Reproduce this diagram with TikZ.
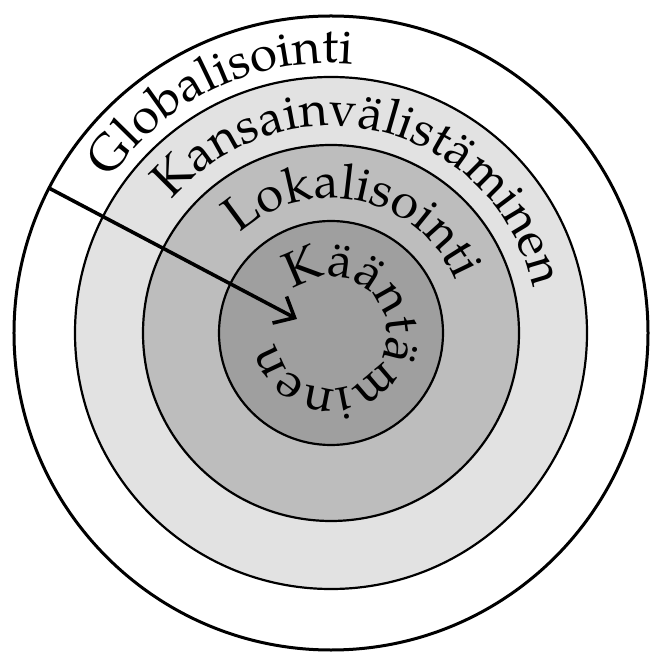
\documentclass[tikz,border=0pt]{standalone}
\usepackage{fontspec}
\setmainfont{TeX Gyre Pagella}
\usetikzlibrary{decorations.text,arrows.meta}
\definecolor{ringA}{gray}{0.885}
\definecolor{ringB}{gray}{0.74}
\definecolor{ringC}{gray}{0.625}
\tikzset{
  outerring/.style={draw=black, line width=3pt, fill=white},
  ring/.style={draw=black, line width=2.2pt},
  ringtext/.style={decorate, decoration={text along path, text align=center,
      text={|\fontsize{49.5}{52}\selectfont|#1}}},
  arrowline/.style={line width=3.6pt, -{Straight Barb[length=17pt,width=30pt]}}
}
\begin{document}
\begin{tikzpicture}[x=1pt,y=1pt]
\useasboundingbox (-331,-319) rectangle (320,333);
\fill[white] (-331,-319) rectangle (320,333);
% rings
\path[outerring] (0,0) circle[radius=317];
\path[ring, fill=ringA] (0,0) circle[radius=256];
\path[ring, fill=ringB] (0,0) circle[radius=188];
\path[ring, fill=ringC] (0,0) circle[radius=112];
% texts along the rings
\path[ringtext={Globalisointi}] (175.25:270) arc[start angle=175.25, end angle=55.25, radius=270];
\path[ringtext={Kansainvälistäminen}] (161.2:207) arc[start angle=161.2, end angle=-8.8, radius=207];
\path[ringtext={Lokalisointi}] (157.9:135) arc[start angle=157.9, end angle=-2.1, radius=135];
\path[ringtext={Kääntäminen}] (156:56) arc[start angle=156, end angle=-194, radius=56];
% arrow
\coordinate (astart) at (152.8:317);
\coordinate (atip) at (-34,14);
\draw[arrowline] (astart) -- (atip);
\end{tikzpicture}
\end{document}
